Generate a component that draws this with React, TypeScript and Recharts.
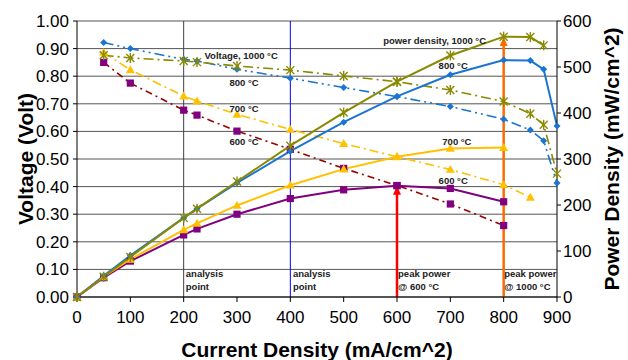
import React from "react";
import {
  ComposedChart,
  Line,
  XAxis,
  YAxis,
  CartesianGrid,
  ReferenceLine,
  ReferenceDot,
} from "recharts";

// current density (mA/cm^2) for the voltage curves and the power curves
const currentV = [50, 100, 200, 225, 300, 400, 500, 600, 700, 800, 850, 875, 900];
const currentP = [0, 50, 100, 200, 225, 300, 400, 500, 600, 700, 800, 850, 875, 900];

// cell voltage (V)
const volt1000 = [0.876, 0.866, 0.855, 0.851, 0.837, 0.822, 0.801, 0.78, 0.75, 0.708, 0.664, 0.624, 0.447];
const volt800 = [0.922, 0.9, 0.861, 0.855, 0.825, 0.793, 0.759, 0.726, 0.69, 0.644, 0.605, 0.566, 0.413];
const volt700 = [0.886, 0.823, 0.728, 0.71, 0.662, 0.607, 0.556, 0.508, 0.462, 0.407, 0.361];
const volt600 = [0.85, 0.775, 0.677, 0.659, 0.601, 0.535, 0.466, 0.404, 0.337, 0.259];

// power density (mW/cm^2)
const pow1000 = [0, 44, 87, 172, 192, 251, 329, 401, 468, 525, 566, 565, 547];
const pow800 = [0, 46, 90, 172, 192, 248, 317, 380, 436, 483, 515, 514, 495, 372];
const pow700 = [0, 44, 82, 146, 160, 199, 243, 278, 305, 323, 325];
const pow600 = [0, 42, 78, 135, 148, 180, 214, 233, 242, 236, 207];

const xTicks = [0, 100, 200, 300, 400, 500, 600, 700, 800, 900];
const voltTicks = [0, 0.1, 0.2, 0.3, 0.4, 0.5, 0.6, 0.7, 0.8, 0.9, 1.0];
const powTicks = [0, 100, 200, 300, 400, 500, 600];

const OLIVE = "#8a8a00";
const BLUE = "#1a74d2";
const GOLD = "#ffc000";
const PURPLE = "#800080";
const DARKRED = "#990000";

const FONT = "'Liberation Sans', Arial, sans-serif";
const NARROW = "'Liberation Sans Narrow', 'Arial Narrow', 'Liberation Sans', sans-serif";

const toPoints = (xs: number[], ys: number[]) => ys.map((y, i) => ({ x: xs[i], y }));

// marker shapes
function star(color: string) {
  return (p: any) => {
    const { cx, cy, index } = p;
    if (cx == null || cy == null) return <g key={index} />;
    const r = 4;
    return (
      <g key={index} stroke={color} strokeWidth={1.4}>
        <line x1={cx - r} y1={cy - r} x2={cx + r} y2={cy + r} />
        <line x1={cx - r} y1={cy + r} x2={cx + r} y2={cy - r} />
        <line x1={cx} y1={cy - r - 1} x2={cx} y2={cy + r + 1} />
      </g>
    );
  };
}

function diamond(color: string) {
  return (p: any) => {
    const { cx, cy, index } = p;
    if (cx == null || cy == null) return <g key={index} />;
    const r = 3.5;
    return <polygon key={index} points={`${cx},${cy - r} ${cx + r},${cy} ${cx},${cy + r} ${cx - r},${cy}`} fill={color} />;
  };
}

function triangle(color: string) {
  return (p: any) => {
    const { cx, cy, index } = p;
    if (cx == null || cy == null) return <g key={index} />;
    const r = 4.5;
    return <polygon key={index} points={`${cx},${cy - r} ${cx + r},${cy + r * 0.75} ${cx - r},${cy + r * 0.75}`} fill={color} />;
  };
}

function square(color: string) {
  return (p: any) => {
    const { cx, cy, index } = p;
    if (cx == null || cy == null) return <g key={index} />;
    const r = 3.6;
    return <rect key={index} x={cx - r} y={cy - r} width={r * 2} height={r * 2} fill={color} />;
  };
}

// vertical arrow pointing up
function arrow(color: string) {
  return (p: any) => {
    const { x1, y1, x2, y2 } = p;
    const x = x1 ?? x2;
    const top = Math.min(y1, y2);
    const bottom = Math.max(y1, y2);
    return (
      <g>
        <line x1={x} y1={bottom} x2={x} y2={top + 7} stroke={color} strokeWidth={2.5} />
        <polygon points={`${x},${top} ${x + 4},${top + 9} ${x - 4},${top + 9}`} fill={color} />
      </g>
    );
  };
}

// annotation texts, placed in voltage-axis coordinates
const notes = [
  { x: 239, y: 0.875, lines: ["Voltage, 1000 °C"] },
  { x: 286, y: 0.775, lines: ["800 °C"] },
  { x: 286, y: 0.684, lines: ["700 °C"] },
  { x: 286, y: 0.564, lines: ["600 °C"] },
  { x: 574, y: 0.927, lines: ["power density, 1000 °C"] },
  { x: 678, y: 0.8375, lines: ["800 °C"] },
  { x: 685, y: 0.561, lines: ["700 °C"] },
  { x: 678, y: 0.422, lines: ["600 °C"] },
  { x: 204, y: 0.085, lines: ["analysis", "point"] },
  { x: 405, y: 0.085, lines: ["analysis", "point"] },
  { x: 602, y: 0.085, lines: ["peak power", "@ 600 °C"] },
  { x: 801, y: 0.085, lines: ["peak power", "@ 1000 °C"] },
];

function noteShape(lines: string[]) {
  return (p: any) => (
    <text x={p.cx} y={p.cy} fontFamily={FONT} fontSize={9.5} fontWeight="bold" fill="#222">
      {lines.map((t, i) => (
        <tspan key={i} x={p.cx} dy={i === 0 ? "0.35em" : 13}>
          {t}
        </tspan>
      ))}
    </text>
  );
}

const titleStyle = { fontFamily: FONT, fontSize: 21, fontWeight: "bold" as const, fill: "#000" };

export default function App() {
  return (
    <div style={{ position: "absolute", left: 0, top: 0, width: 628, height: 360, background: "#fff" }}>
      <ComposedChart width={628} height={360} margin={{ top: 21, right: 0, bottom: 0, left: 0 }}>
        <CartesianGrid yAxisId="v" vertical={false} stroke="#555" />
        <XAxis
          dataKey="x"
          type="number"
          domain={[0, 900]}
          ticks={xTicks}
          height={63}
          stroke="#000"
          tickSize={5}
          tickMargin={9}
          tick={{ fill: "#000", fontFamily: NARROW, fontSize: 17 }}
          label={{
            content: () => (
              <text x={317} y={349} textAnchor="middle" dominantBaseline="central" {...titleStyle}>
                Current Density (mA/cm^2)
              </text>
            ),
          }}
        />
        <YAxis
          yAxisId="v"
          orientation="left"
          domain={[0, 1]}
          ticks={voltTicks}
          width={77}
          stroke="#000"
          tickSize={4}
          tickMargin={4}
          tickFormatter={(v: number) => v.toFixed(2)}
          tick={{ fill: "#000", fontFamily: NARROW, fontSize: 17 }}
          label={{
            content: () => (
              <text x={25} y={159} textAnchor="middle" dominantBaseline="central" transform="rotate(-90 25 159)" {...titleStyle}>
                Voltage (Volt)
              </text>
            ),
          }}
        />
        <YAxis
          yAxisId="p"
          orientation="right"
          domain={[0, 600]}
          ticks={powTicks}
          width={71}
          stroke="#000"
          tickSize={4}
          tickMargin={2}
          tick={{ fill: "#000", fontFamily: NARROW, fontSize: 17 }}
          label={{
            content: () => (
              <text x={611} y={159} textAnchor="middle" dominantBaseline="central" transform="rotate(-90 611 159)" {...titleStyle}>
                Power Density (mW/cm^2)
              </text>
            ),
          }}
        />

        <ReferenceLine x={200} yAxisId="v" stroke="#404040" strokeWidth={1} />
        <ReferenceLine x={400} yAxisId="v" stroke="#0000ee" strokeWidth={1} />
        <ReferenceLine
          yAxisId="p"
          segment={[{ x: 600, y: 0 }, { x: 600, y: 242 }]}
          shape={arrow("#ff0000")}
        />
        <ReferenceLine
          yAxisId="p"
          segment={[{ x: 800, y: 0 }, { x: 800, y: 565 }]}
          shape={arrow("#ff6a00")}
        />

        <Line yAxisId="v" data={toPoints(currentV, volt600)} dataKey="y" stroke={DARKRED} strokeWidth={1.6}
          strokeDasharray="7 4 2 4" dot={square(PURPLE)} isAnimationActive={false} />
        <Line yAxisId="v" data={toPoints(currentV, volt700)} dataKey="y" stroke={GOLD} strokeWidth={1.6}
          strokeDasharray="9 4 2 4" dot={triangle(GOLD)} isAnimationActive={false} />
        <Line yAxisId="v" data={toPoints(currentV, volt800)} dataKey="y" stroke={BLUE} strokeWidth={1.6}
          strokeDasharray="10 4 2 4 2 4" dot={diamond(BLUE)} isAnimationActive={false} />
        <Line yAxisId="v" data={toPoints(currentV, volt1000)} dataKey="y" stroke={OLIVE} strokeWidth={1.6}
          strokeDasharray="10 4 2 4" dot={star(OLIVE)} isAnimationActive={false} />

        <Line yAxisId="p" data={toPoints(currentP, pow600)} dataKey="y" stroke={PURPLE} strokeWidth={2}
          dot={square(PURPLE)} isAnimationActive={false} />
        <Line yAxisId="p" data={toPoints(currentP, pow700)} dataKey="y" stroke={GOLD} strokeWidth={2}
          dot={triangle(GOLD)} isAnimationActive={false} />
        <Line yAxisId="p" data={toPoints(currentP, pow800)} dataKey="y" stroke={BLUE} strokeWidth={2}
          dot={diamond(BLUE)} isAnimationActive={false} />
        <Line yAxisId="p" data={toPoints(currentP, pow1000)} dataKey="y" stroke={OLIVE} strokeWidth={2}
          dot={star(OLIVE)} isAnimationActive={false} />

        {notes.map((n, i) => (
          <ReferenceDot key={i} yAxisId="v" x={n.x} y={n.y} r={0} ifOverflow="visible" shape={noteShape(n.lines)} />
        ))}
      </ComposedChart>
    </div>
  );
}
